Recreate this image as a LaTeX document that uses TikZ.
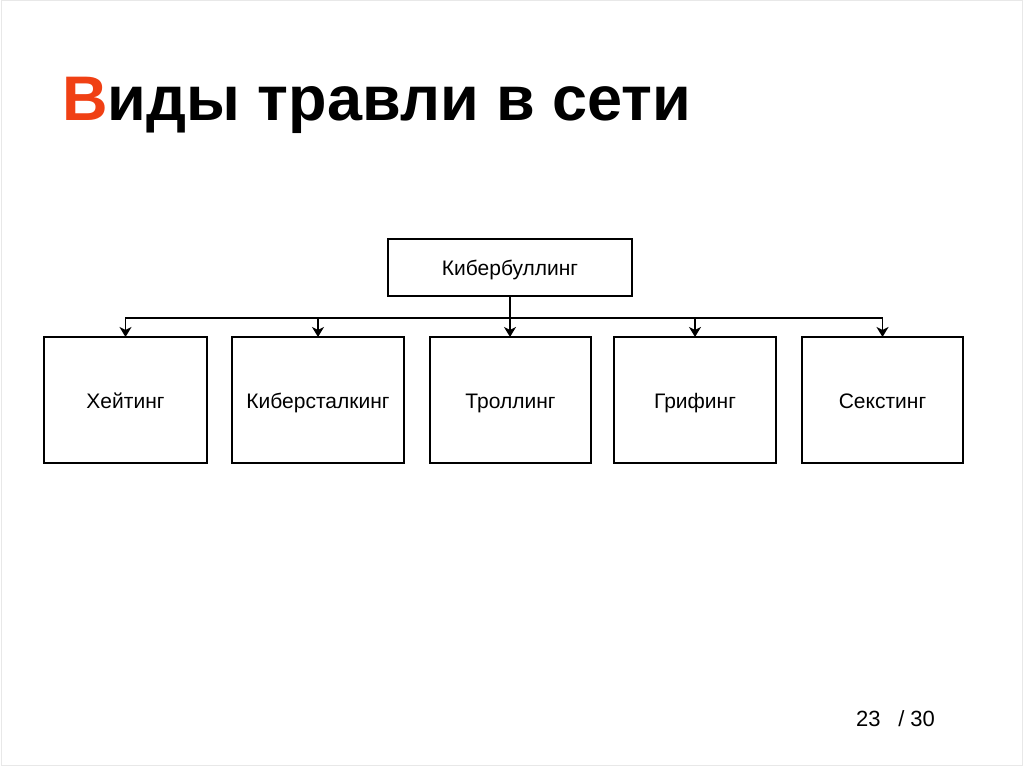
\documentclass[tikz,border=0pt]{standalone}
\usepackage{fontspec}
\setmainfont{Liberation Sans}
\definecolor{titlered}{RGB}{240, 64, 20}
\definecolor{framegray}{RGB}{232, 232, 232}
\usetikzlibrary{arrows.meta,positioning,calc}

\begin{document}
\begin{tikzpicture}[x=1pt, y=1pt,
    box/.style={rectangle, draw, line width=1.6pt, inner sep=0pt, outer sep=0pt,
        text height=17pt, text depth=0pt, font=\fontsize{21}{25}\selectfont},
    tobox/.style={-{Stealth[length=10pt, width=12pt, inset=3pt]}, line width=1.6pt},
    bus/.style={line width=1.6pt, line cap=rect}]
    \useasboundingbox (0,0) rectangle (1024,767);
    \draw[framegray, line width=1pt] (1,1) rectangle (1022,766);

    % Title
    \node[anchor=base west, inner sep=0pt, font=\fontsize{63}{70}\selectfont\bfseries] (title) at (62,646)
        {\textcolor{titlered}{В}иды травли в сети};

    % Root
    \node[box, minimum width=244pt, minimum height=57pt] (cyber) at (510,499.5) {Кибербуллинг};

    % Kinds
    \node[box, minimum width=163pt, minimum height=126pt] (hate) at (125.5,367) {Хейтинг};
    \node[box, minimum width=172pt, minimum height=126pt, right=25pt of hate] (stalk) {Киберсталкинг};
    \node[box, minimum width=161pt, minimum height=126pt, right=26pt of stalk] (troll) {Троллинг};
    \node[box, minimum width=162pt, minimum height=126pt, right=23pt of troll] (grief) {Грифинг};
    \node[box, minimum width=161pt, minimum height=126pt, right=26pt of grief] (sext) {Секстинг};

    % Connectors
    \coordinate[below=22pt of cyber.south] (split);
    \draw[bus] (hate.north |- split) -- (sext.north |- split);
    \draw[tobox] (cyber.south) -- (cyber.south |- troll.north);
    \foreach \kind in {hate, stalk, grief, sext}
        \draw[tobox] (\kind.north |- split) -- (\kind.north);

    % Page number
    \node[anchor=base west, inner sep=0pt, font=\fontsize{22}{26}\selectfont] (page) at (856,40)
        {23\hspace{0.8em}/ 30};
\end{tikzpicture}
\end{document}
